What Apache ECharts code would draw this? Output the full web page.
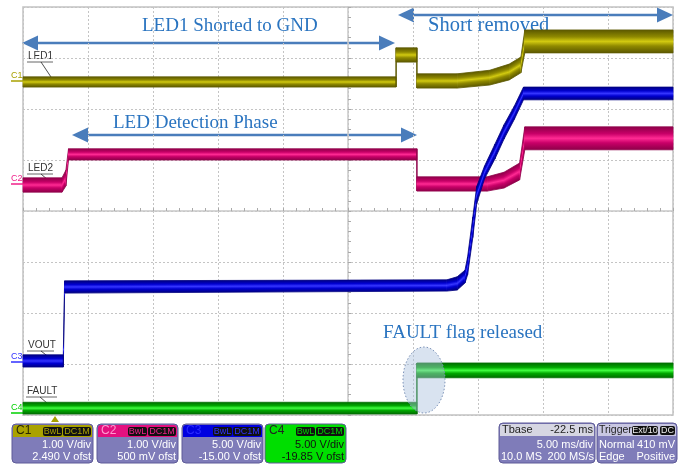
<!DOCTYPE html>
<html>
<head>
<meta charset="utf-8">
<script src="https://cdn.jsdelivr.net/npm/echarts@6/dist/echarts.min.js"></script>
<style>
  html, body { margin: 0; padding: 0; background: #fff; }
  #scope { width: 688px; height: 464px; }
</style>
</head>
<body>
<div id="scope"></div>
<script>
// traces: [time ms from screen centre, envelope low, envelope high] in divisions from centre
var ledOneTrace = [
    [-25, 2.43, 2.63], [3.7, 2.43, 2.63], [3.7, 2.92, 3.20], [5.3, 2.92, 3.20],
    [5.3, 2.41, 2.69], [8.4, 2.41, 2.69], [10.9, 2.47, 2.76], [12.4, 2.57, 2.88],
    [13.3, 2.71, 3.02], [13.6, 3.10, 3.55], [25, 3.10, 3.55]
];
var ledTwoTrace = [
    [-25, 0.37, 0.65], [-22.0, 0.37, 0.65], [-21.7, 0.49, 0.80], [-21.5, 1.00, 1.22],
    [5.3, 1.00, 1.22], [5.3, 0.39, 0.67], [10.7, 0.39, 0.67], [12.0, 0.45, 0.76],
    [13.2, 0.61, 0.94], [13.6, 1.20, 1.65], [25, 1.20, 1.65]
];
var voutTrace = [
    [-25, -3.06, -2.82], [-21.9, -3.06, -2.82], [-21.8, -1.61, -1.37], [7.6, -1.57, -1.35],
    [8.4, -1.55, -1.29], [9.0, -1.41, -1.16], [9.2, -1.25, -0.90], [9.6, -0.52, -0.12],
    [9.9, 0.14, 0.48], [10.5, 0.63, 0.88], [11.3, 1.02, 1.31], [12.0, 1.41, 1.69],
    [12.8, 1.80, 2.06], [13.5, 2.18, 2.43], [25, 2.18, 2.43]
];
var faultTrace = [
    [-25, -3.98, -3.75], [5.3, -3.98, -3.75], [5.3, -3.27, -2.98], [25, -3.27, -2.98]
];

var chanNames = ['C1', 'C2', 'C3', 'C4'];
var traceNames = ['LED1', 'LED2', 'VOUT', 'FAULT'];
var voltsPerDiv = ['1.00 V/div', '1.00 V/div', '5.00 V/div', '5.00 V/div'];
var offsets = ['2.490 V ofst', '500 mV ofst', '-15.00 V ofst', '-19.85 V ofst'];
var tbaseText = ['Tbase', '-22.5 ms', '5.00 ms/div', '10.0 MS', '200 MS/s'];
var triggerText = ['Trigger', 'Ext/10', 'DC', 'Normal', '410 mV', 'Edge', 'Positive'];

var notes = {
    shorted: 'LED1 Shorted to GND',
    removed: 'Short removed',
    detect: 'LED Detection Phase',
    released: 'FAULT flag released'
};

var chanColors = [
    { dark: '#5c5800', mid: '#8f8900', bright: '#d2ca10', head: '#aaa200', ink: '#a8a000', label: '#2a2800' },
    { dark: '#8e0049', mid: '#c80068', bright: '#ff2a93', head: '#e4107f', ink: '#f0208a', label: '#ff9ad0' },
    { dark: '#000080', mid: '#0000d0', bright: '#3535ff', head: '#0000e0', ink: '#3030ff', label: '#2a2aff' },
    { dark: '#006c00', mid: '#00a800', bright: '#40ff40', head: '#00e000', ink: '#00d000', label: '#222' }
];

var bandRender = function(pts, c) {
    var stops = [
        { offset: 0, color: c.dark }, { offset: 0.3, color: c.mid },
        { offset: 0.5, color: c.bright }, { offset: 0.7, color: c.mid },
        { offset: 1, color: c.dark }
    ];
    return function(params, api) {
        var i = params.dataIndex;
        if (i >= pts.length - 1) return null;
        var a = pts[i], b = pts[i + 1];
        var aLo = api.coord([a[0], a[1]]), aHi = api.coord([a[0], a[2]]);
        var bLo = api.coord([b[0], b[1]]), bHi = api.coord([b[0], b[2]]);
        // vertical edge: thin line
        if (Math.abs(bLo[0] - aLo[0]) < 0.5) {
            var ys = [aLo[1], aHi[1], bLo[1], bHi[1]];
            return {
                type: 'line',
                shape: { x1: aLo[0], y1: Math.min.apply(null, ys), x2: aLo[0], y2: Math.max.apply(null, ys) },
                style: { stroke: c.dark, lineWidth: 1.5 }
            };
        }
        // shade across the band, perpendicular to its direction
        var aMid = (aLo[1] + aHi[1]) / 2, bMid = (bLo[1] + bHi[1]) / 2;
        var cx = (aLo[0] + bLo[0]) / 2, cy = (aMid + bMid) / 2;
        var dx = bLo[0] - aLo[0], dy = bMid - aMid;
        var len = Math.sqrt(dx * dx + dy * dy);
        var tv = ((aLo[1] - aHi[1]) + (bLo[1] - bHi[1])) / 2;
        var half = tv / 2 * dx / len;
        var nx = -dy / len, ny = dx / len;
        var grad = new echarts.graphic.LinearGradient(
            cx - nx * half, cy - ny * half, cx + nx * half, cy + ny * half, stops, true);
        return {
            type: 'polygon',
            shape: { points: [aHi, bHi, bLo, aLo] },
            style: { fill: grad, stroke: grad, lineWidth: 0.8 }
        };
    };
};

var bandSeries = function(name, pts, c) {
    return {
        type: 'custom',
        name: name,
        renderItem: bandRender(pts, c),
        encode: { x: 0, y: [1, 2] },
        data: pts,
        silent: true
    };
};

// ---- annotations ----
var blue = '#4a7dbb';
var noteInk = '#2a74c0';

var arrow = function(x1, x2, y) {
    return {
        type: 'group',
        children: [
            { type: 'line', shape: { x1: x1 + 12, y1: y, x2: x2 - 12, y2: y }, style: { stroke: blue, lineWidth: 2.5 } },
            { type: 'polygon', shape: { points: [[x1, y], [x1 + 16, y - 7.5], [x1 + 16, y + 7.5]] }, style: { fill: blue } },
            { type: 'polygon', shape: { points: [[x2, y], [x2 - 16, y - 7.5], [x2 - 16, y + 7.5]] }, style: { fill: blue } }
        ]
    };
};

var note = function(text, x, y, size) {
    return {
        type: 'text', x: x, y: y,
        style: { text: text, font: (size || 19) + 'px "Liberation Serif", serif', fill: noteInk, align: 'left', verticalAlign: 'middle', textAlign: 'left', textVerticalAlign: 'middle' }
    };
};

var txt = function(text, x, y, color, align, size) {
    return {
        type: 'text', x: x, y: y,
        style: { text: text, font: (size || 11) + 'px "Liberation Sans", Arial, sans-serif', fill: color, align: align, verticalAlign: 'middle', textAlign: align, textVerticalAlign: 'middle' }
    };
};

var traceLabel = function(text, x, y, w, tx, ty) {
    return {
        type: 'group',
        children: [
            txt(text, x, y, '#333', 'left', 10),
            { type: 'line', shape: { x1: x - 1, y1: y + 6, x2: x + w, y2: y + 6 }, style: { stroke: '#666', lineWidth: 1 } },
            { type: 'line', shape: { x1: x + 13, y1: y + 6, x2: tx, y2: ty }, style: { stroke: '#222', lineWidth: 0.8 } }
        ]
    };
};

var chanMark = function(i, y) {
    var col = chanColors[i].ink;
    return {
        type: 'group',
        children: [
            txt(chanNames[i], 11, y - 1, col, 'left', 9),
            { type: 'line', shape: { x1: 11, y1: y + 4, x2: 23, y2: y + 4 }, style: { stroke: col, lineWidth: 1.5 } }
        ]
    };
};

var tag = function(text, x, y, w, color) {
    return {
        type: 'group',
        children: [
            { type: 'rect', shape: { x: x, y: y, width: w, height: 9, r: 2 }, style: { fill: '#111' } },
            txt(text, x + w / 2, y + 4.5, color, 'center', 9)
        ]
    };
};

var chanBox = function(i, x) {
    var c = chanColors[i];
    var isFault = i === 3;
    var body = isFault ? '#00de00' : '#7f7cb9';
    var ink = isFault ? '#111' : '#fff';
    return {
        type: 'group',
        children: [
            { type: 'rect', shape: { x: x, y: 424, width: 81, height: 39, r: 4 }, style: { fill: body, stroke: '#5e5b98', lineWidth: 1 } },
            { type: 'rect', shape: { x: x + 1, y: 425, width: 79, height: 12, r: [3, 3, 0, 0] }, style: { fill: c.head } },
            txt(chanNames[i], x + 4, 431, c.label, 'left', 12),
            tag('BwL', x + 31, 427, 19, c.ink),
            tag('DC1M', x + 51, 427, 28, c.ink),
            txt(voltsPerDiv[i], x + 79, 445, ink, 'right', 11),
            txt(offsets[i], x + 79, 456.5, ink, 'right', 11)
        ]
    };
};

var tbaseBox = {
    type: 'group',
    children: [
        { type: 'rect', shape: { x: 499, y: 423, width: 96, height: 40, r: 4 }, style: { fill: '#7f7cb9', stroke: '#5e5b98', lineWidth: 1 } },
        { type: 'rect', shape: { x: 500, y: 424, width: 94, height: 12, r: [3, 3, 0, 0] }, style: { fill: '#d6d6e2' } },
        txt(tbaseText[0], 502, 430, '#222', 'left', 11),
        txt(tbaseText[1], 593, 430, '#222', 'right', 11),
        txt(tbaseText[2], 593, 444.5, '#fff', 'right', 11),
        txt(tbaseText[3], 501, 456.5, '#fff', 'left', 11),
        txt(tbaseText[4], 594, 456.5, '#fff', 'right', 11)
    ]
};

var triggerBox = {
    type: 'group',
    children: [
        { type: 'rect', shape: { x: 597, y: 423, width: 80, height: 40, r: 4 }, style: { fill: '#7f7cb9', stroke: '#5e5b98', lineWidth: 1 } },
        { type: 'rect', shape: { x: 598, y: 424, width: 78, height: 12, r: [3, 3, 0, 0] }, style: { fill: '#c9c7e2' } },
        txt(triggerText[0], 599, 430, '#222', 'left', 10.5),
        tag(triggerText[1], 632, 426, 26, '#eee'),
        tag(triggerText[2], 660, 426, 15, '#eee'),
        txt(triggerText[3], 599, 444.5, '#fff', 'left', 11),
        txt(triggerText[4], 675, 444.5, '#fff', 'right', 11),
        txt(triggerText[5], 599, 456.5, '#fff', 'left', 11),
        txt(triggerText[6], 675, 456.5, '#fff', 'right', 11)
    ]
};

var gridLine = { show: true, lineStyle: { color: '#c4c4c4', type: [2, 2], width: 1 } };
var centreAxis = {
    show: true, onZero: true,
    lineStyle: { color: '#c8c8c8', width: 1.5 }
};

var myChart = echarts.init(document.getElementById('scope'));
var option = {
    animation: false,
    backgroundColor: '#fff',
    grid: {
        left: 23, right: 15, top: 7, bottom: 49,
        show: true, borderColor: '#c2c2c2', borderWidth: 1.5
    },
    xAxis: {
        type: 'value', min: -25, max: 25, interval: 5,
        axisLine: centreAxis,
        axisTick: { show: true, inside: true, length: 3, lineStyle: { color: '#aaa' } },
        minorTick: { show: true, splitNumber: 5, length: 3, lineStyle: { color: '#aaa' } },
        axisLabel: { show: false },
        splitLine: gridLine
    },
    yAxis: {
        type: 'value', min: -4, max: 4, interval: 1,
        axisLine: centreAxis,
        axisTick: { show: true, inside: true, length: 3, lineStyle: { color: '#aaa' } },
        minorTick: { show: true, splitNumber: 5, length: 3, lineStyle: { color: '#aaa' } },
        axisLabel: { show: false },
        splitLine: gridLine
    },
    series: [
        bandSeries('FAULT', faultTrace, chanColors[3]),
        bandSeries('LED2', ledTwoTrace, chanColors[1]),
        bandSeries('LED1', ledOneTrace, chanColors[0]),
        bandSeries('VOUT', voutTrace, chanColors[2])
    ],
    graphic: [
        arrow(22, 395, 43),
        arrow(398, 673, 15),
        arrow(72, 417, 135),
        note(notes.shorted, 142, 26),
        note(notes.removed, 428, 26, 20.5),
        note(notes.detect, 113, 123),
        note(notes.released, 383, 333),
        {
            type: 'ellipse',
            shape: { cx: 424, cy: 380, rx: 21, ry: 33 },
            style: { fill: 'rgba(170,192,222,0.45)', stroke: '#7d93b8', lineWidth: 1, lineDash: [1.5, 2] },
            z: 100
        },
        traceLabel(traceNames[0], 28, 56, 25, 55, 83),
        traceLabel(traceNames[1], 28, 168, 25, 55, 186),
        traceLabel(traceNames[2], 28, 345, 26, 55, 362),
        traceLabel(traceNames[3], 27, 391, 30, 55, 410),
        chanMark(0, 77),
        chanMark(1, 180),
        chanMark(2, 358),
        chanMark(3, 409),
        { type: 'polygon', shape: { points: [[55, 416], [51, 422], [59, 422]] }, style: { fill: '#a8a000' } },
        chanBox(0, 12),
        chanBox(1, 97),
        chanBox(2, 182),
        chanBox(3, 265),
        tbaseBox,
        triggerBox
    ]
};
myChart.setOption(option);
</script>
</body>
</html>
